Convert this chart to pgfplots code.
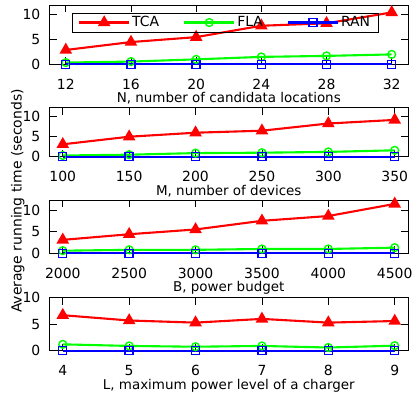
\documentclass[border=0pt]{standalone}
\usepackage{pgfplots}
\pgfplotsset{compat=1.18}
\usepackage{fontspec}
\setmainfont{DejaVu Sans}
\definecolor{gred}{RGB}{255,0,0}
\definecolor{ggreen}{RGB}{0,255,0}
\definecolor{gblue}{RGB}{0,0,255}
\pgfplotsset{
  panel/.style={
    scale only axis, width=358.5bp, clip=false,
    axis line style={black, line width=0.8bp},
    tick style={black, line width=0.8bp},
    tick align=inside, major tick length=7bp,
    xtick pos=both, ytick pos=both,
    ymin=0, ytick={0,5,10},
    /pgf/number format/assume math mode=true,
    font=\fontsize{14}{16}\selectfont,
    xticklabel style={anchor=base, inner sep=0pt, yshift=-25bp},
    yticklabel style={anchor=east, inner sep=0pt, xshift=-9bp},
    xlabel style={at={(axis description cs:0.5,0)}, anchor=base, inner sep=0pt, yshift=-38.5bp, font=\fontsize{13.5}{15}\selectfont},
    every axis plot/.append style={line width=2.1bp},
    legend image code/.code={\draw[mark repeat=2,mark phase=2] plot coordinates {(0bp,0bp) (25bp,0bp) (50bp,0bp)};},
  },
  tca/.style={color=gred, mark=triangle*, mark size=5.2bp, mark options={solid, fill=gred}},
  fla/.style={color=ggreen, mark=o, mark size=3.9bp, mark options={solid, line width=1.4bp}},
  ran/.style={color=gblue, mark=square, mark size=4bp, mark options={solid, line width=1.4bp}},
}
\begin{document}
\begin{tikzpicture}
\path[use as bounding box] (0,0) rectangle (417bp,-395bp);
% Panel 1
\begin{axis}[panel, at={(49.5bp,-5bp)}, anchor=north west, height=59.3bp,
  xmin=11, xmax=33, xtick={12,16,20,24,28,32}, ymax=12,
  xlabel={N, number of candidata locations},
  legend columns=3,
  legend style={at={(axis description cs:0.062,0.87)}, anchor=north west, fill=none, draw=black, line width=0.8bp,
    font=\fontsize{14}{16}\selectfont, inner xsep=6bp, inner ysep=1.5bp,
    /tikz/every even column/.append style={column sep=22bp}},
  ]
\addplot[tca] coordinates {(12,2.9)(16,4.5)(20,5.5)(24,7.8)(28,8.3)(32,10.5)};
\addplot[fla] coordinates {(12,0.35)(16,0.55)(20,1.0)(24,1.5)(28,1.7)(32,2.0)};
\addplot[ran] coordinates {(12,0.02)(16,0.02)(20,0.02)(24,0.02)(28,0.02)(32,0.02)};
\legend{TCA,FLA,RAN}
\end{axis}
% Panel 2
\begin{axis}[panel, at={(49.5bp,-107.7bp)}, anchor=north west, height=49bp,
  xmin=90, xmax=360, xtick={100,150,200,250,300,350}, ymax=12.25,
  xlabel={M, number of devices}]
\addplot[tca] coordinates {(100,3.1)(150,5.0)(200,6.0)(250,6.5)(300,8.3)(350,9.2)};
\addplot[fla] coordinates {(100,0.3)(150,0.5)(200,0.9)(250,1.0)(300,1.2)(350,1.6)};
\addplot[ran] coordinates {(100,0.02)(150,0.02)(200,0.02)(250,0.02)(300,0.02)(350,0.02)};
\end{axis}
% Panel 3
\begin{axis}[panel, at={(49.5bp,-200bp)}, anchor=north west, height=53.3bp,
  xmin=1900, xmax=4600, xtick={2000,2500,3000,3500,4000,4500}, ymax=12.3,
  xticklabel style={/pgf/number format/1000 sep={}},
  xlabel={B, power budget}]
\addplot[tca] coordinates {(2000,3.1)(2500,4.4)(3000,5.5)(3500,7.5)(4000,8.6)(4500,11.4)};
\addplot[fla] coordinates {(2000,0.6)(2500,0.8)(3000,0.8)(3500,1.0)(4000,1.0)(4500,1.3)};
\addplot[ran] coordinates {(2000,0.02)(2500,0.02)(3000,0.02)(3500,0.02)(4000,0.02)(4500,0.02)};
\end{axis}
% Panel 4
\begin{axis}[panel, at={(49.5bp,-297.7bp)}, anchor=north west, height=53bp,
  xmin=3.8, xmax=9.2, xtick={4,5,6,7,8,9}, ymax=10,
  xlabel={L, maximum power level of a charger}]
\addplot[tca] coordinates {(4,6.7)(5,5.7)(6,5.3)(7,6.0)(8,5.3)(9,5.6)};
\addplot[fla] coordinates {(4,1.2)(5,0.9)(6,0.75)(7,0.9)(8,0.6)(9,0.95)};
\addplot[ran] coordinates {(4,0.02)(5,0.02)(6,0.02)(7,0.02)(8,0.02)(9,0.02)};
\end{axis}
\node[rotate=90, anchor=base, inner sep=0pt, font=\fontsize{14}{16}\selectfont] at (21.7bp,-201bp) {Average running time (seconds)};
\end{tikzpicture}
\end{document}
